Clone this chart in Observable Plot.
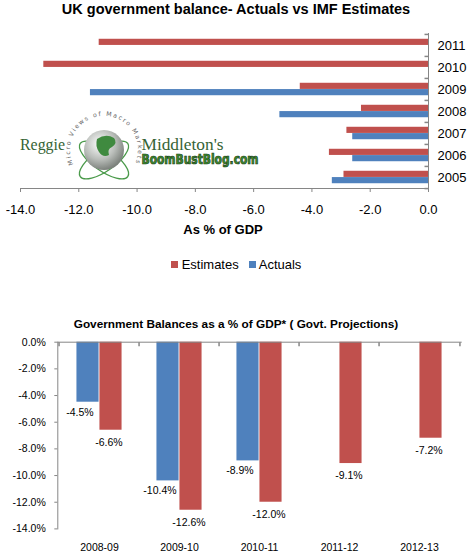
<!DOCTYPE html>
<html>
<head>
<meta charset="utf-8">
<script src="https://cdn.jsdelivr.net/npm/d3@7"></script>
<script src="https://cdn.jsdelivr.net/npm/@observablehq/plot@0.6"></script>
<style>
  html, body { margin: 0; padding: 0; background: #fff; }
  #page { position: relative; width: 472px; height: 556px; overflow: hidden; font-family: "Liberation Sans", Arial, sans-serif; color: #000; }
  .abs { position: absolute; left: 0; }
  .title1 { top: 1px; width: 472px; text-align: center; font-weight: bold; font-size: 14.5px; }
  .xlabel1 { top: 222px; left: 0; width: 446px; text-align: center; font-weight: bold; font-size: 13px; }
  .legend { top: 257px; width: 472px; display: flex; justify-content: center; align-items: center; font-size: 13px; }
  .sw { display: inline-block; width: 7px; height: 7px; margin-right: 4px; }
  .title2 { top: 317px; width: 472px; text-align: center; font-weight: bold; font-size: 11.8px; }
</style>
</head>
<body>
<div id="page">
  <div class="abs title1">UK government balance- Actuals vs IMF Estimates</div>
  <div class="abs" id="chart1" style="top:25px"></div>
  <div class="abs xlabel1">As % of GDP</div>
  <div class="abs legend">
    <span class="sw" style="background:#C0504D"></span><span style="margin-right:10px">Estimates</span>
    <span class="sw" style="background:#4F81BD;margin-right:3px"></span><span>Actuals</span>
  </div>
  <svg class="abs" style="top:100px" width="330" height="85" viewBox="0 0 330 85">
    <defs>
      <radialGradient id="glb" cx="40%" cy="35%" r="65%">
        <stop offset="0%" stop-color="#ffffff"/>
        <stop offset="60%" stop-color="#b9bdb9"/>
        <stop offset="100%" stop-color="#7d827d"/>
      </radialGradient>
      <path id="arc" d="M 74.6 67 A 34 34 0 1 1 133.4 67"/>
    </defs>
    <rect x="12" y="8" width="250" height="70" fill="#fff"/>
    <text x="20" y="50" font-family="Liberation Serif, serif" font-size="17" fill="#356335" textLength="45" lengthAdjust="spacingAndGlyphs">Reggie</text>
    <ellipse cx="104" cy="60" rx="29" ry="11" fill="none" stroke="#4a9a4a" stroke-width="1.3" transform="rotate(35 104 60)"/>
    <ellipse cx="104" cy="60" rx="29" ry="11" fill="none" stroke="#4a9a4a" stroke-width="1.3" transform="rotate(-35 104 60)"/>
    <circle cx="104" cy="50" r="20" fill="url(#glb)"/>
    <path d="M 97 39 q 9 -6 17 -1 q 4 5 -2 9 q -5 2 -3 8 q -6 3 -10 -3 q -4 -6 -2 -13 z" fill="#3f8a3f"/>
    <text font-family="DejaVu Sans, sans-serif" font-size="6.2" fill="#666"><textPath href="#arc" startOffset="3" textLength="134">Micro Views of Macro Markets</textPath></text>
    <text x="141.5" y="50" font-family="Liberation Serif, serif" font-size="17" fill="#356335" textLength="82" lengthAdjust="spacingAndGlyphs">Middleton's</text>
    <text x="141.5" y="64" font-family="DejaVu Sans Condensed, DejaVu Sans, sans-serif" font-weight="bold" font-size="14.5" fill="#3f8f2f" stroke="#163816" stroke-width="0.7" textLength="117" lengthAdjust="spacingAndGlyphs">BoomBustBlog.com</text>
  </svg>
  <div class="abs title2">Government Balances as a % of GDP* ( Govt. Projections)</div>
  <div class="abs" id="chart2" style="top:335px"></div>
</div>
<script>
// ---- Chart 1 data: UK government balance, actuals vs IMF estimates (% of GDP)
const years = ["2011", "2010", "2009", "2008", "2007", "2006", "2005"];
const imfEstimates = [-11.3, -13.2, -4.4, -2.3, -2.8, -3.4, -2.9];
const ukActuals = [null, null, -11.6, -5.1, -2.6, -2.6, -3.3];
const xTicks1 = [-14, -12, -10, -8, -6, -4, -2, 0];

// ---- Chart 2 data: Government balances as % of GDP (Govt. projections)
const periods = ["2008-09", "2009-10", "2010-11", "2011-12", "2012-13"];
const govActuals = [-4.5, -10.4, -8.9, null, null];
const govProjections = [-6.6, -12.6, -12.0, -9.1, -7.2];
const yTicks2 = [0, -2, -4, -6, -8, -10, -12, -14];

const RED = "#C0504D", BLUE = "#4F81BD", AXIS = "#868686";
const FONT = "'Liberation Sans', Arial, sans-serif";

const hTick = { draw(ctx) { ctx.moveTo(0, 0); ctx.lineTo(-4, 0); } };
const vTick = { draw(ctx) { ctx.moveTo(0, 0); ctx.lineTo(0, 4); } };

// ---------- Chart 1
const t1 = years.map((y, i) => ({ year: y, est: imfEstimates[i], act: ukActuals[i] }));
const W = 472, H1 = 200, mT1 = 8, mB1 = 37, mL1 = 20, mR1 = 44;
const bh = (H1 - mT1 - mB1) / years.length; // band height
const barH = 6.3, gap = (bh - 2 * barH) / 2;

const chart1 = Plot.plot({
  width: W, height: H1,
  marginTop: mT1, marginBottom: mB1, marginLeft: mL1, marginRight: mR1,
  style: { fontFamily: FONT, fontSize: "13px", color: "#000", background: "transparent" },
  x: { domain: [-14, 0], ticks: xTicks1, axis: null },
  y: { domain: years, padding: 0, axis: null },
  marks: [
    Plot.barX(t1, { y: "year", x: "est", fill: RED, insetTop: gap, insetBottom: bh - gap - barH }),
    Plot.barX(t1.filter(d => d.act != null), { y: "year", x: "act", fill: BLUE, insetTop: gap + barH, insetBottom: gap }),
    Plot.ruleX([0], { stroke: AXIS }),
    Plot.frame({ anchor: "bottom", stroke: AXIS }),
    Plot.axisX({ ticks: xTicks1, tickFormat: d => d.toFixed(1), tickSize: 4, tickPadding: 12, stroke: AXIS, fill: "#000", label: null }),
    Plot.axisY({ anchor: "right", tickSize: 0, tickPadding: 9, fill: "#000", label: null }),
    Plot.dot(years, { y: d => d, frameAnchor: "right", dy: -bh / 2, symbol: hTick, stroke: AXIS, fill: "none" }),
    Plot.dot(years.slice(-1), { y: d => d, frameAnchor: "right", dy: bh / 2, symbol: hTick, stroke: AXIS, fill: "none" })
  ]
});
document.getElementById("chart1").appendChild(chart1);

// ---------- Chart 2
const t2 = periods.map((p, i) => ({ period: p, act: govActuals[i], proj: govProjections[i] }));
const H2 = 221, mT2 = 6.7, mB2 = 27.6, mL2 = 57.3, mR2 = 10.3;
const bw = (W - mL2 - mR2) / periods.length;
const barW = 23, side = (bw - 2 * barW) / 2;
const fmt = d => d.toFixed(1) + "%";

const chart2 = Plot.plot({
  width: W, height: H2,
  marginTop: mT2, marginBottom: mB2, marginLeft: mL2, marginRight: mR2,
  style: { fontFamily: FONT, fontSize: "10.5px", color: "#000", background: "transparent" },
  x: { domain: periods, padding: 0, axis: null },
  y: { domain: [-14, 0], axis: null },
  marks: [
    Plot.barY(t2.filter(d => d.act != null), { x: "period", y: "act", fill: BLUE, insetLeft: side, insetRight: side + barW }),
    Plot.barY(t2, { x: "period", y: "proj", fill: RED, insetLeft: side + barW, insetRight: side }),
    Plot.text(t2.filter(d => d.act != null), { x: "period", y: "act", text: d => fmt(d.act), dx: -barW / 2 - 8, dy: 10, fill: "#000" }),
    Plot.text(t2, { x: "period", y: "proj", text: d => fmt(d.proj), dx: barW / 2 - 2, dy: 12.5, fill: "#000" }),
    Plot.ruleY([0], { stroke: AXIS }),
    Plot.frame({ anchor: "left", stroke: AXIS }),
    Plot.axisY({ ticks: yTicks2, tickFormat: fmt, tickSize: 3, tickPadding: 9, stroke: AXIS, fill: "#000", label: null }),
    Plot.axisX({ anchor: "bottom", tickSize: 0, tickPadding: 14.5, fill: "#000", label: null }),
    Plot.dot(periods, { x: d => d, frameAnchor: "top", dx: -bw / 2, symbol: vTick, stroke: AXIS, fill: "none" }),
    Plot.dot(periods.slice(-1), { x: d => d, frameAnchor: "top", dx: bw / 2, symbol: vTick, stroke: AXIS, fill: "none" })
  ]
});
document.getElementById("chart2").appendChild(chart2);
</script>
</body>
</html>
